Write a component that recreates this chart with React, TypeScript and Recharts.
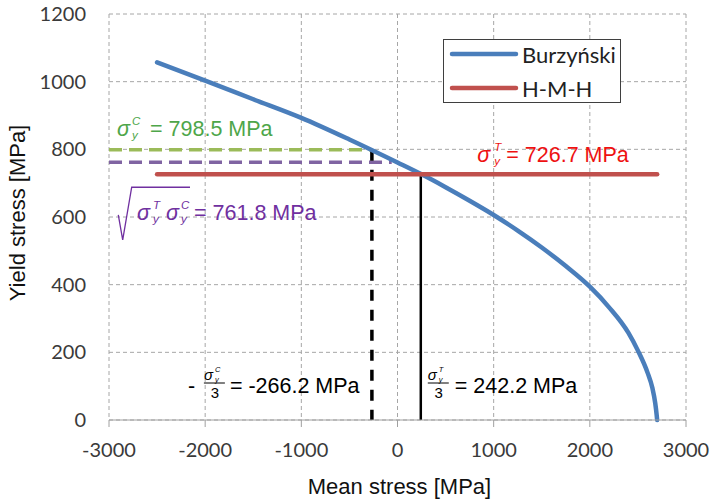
import React from "react";
import {
  ComposedChart,
  Line,
  XAxis,
  YAxis,
  CartesianGrid,
  ReferenceLine,
  ReferenceDot,
  Legend,
  Label,
} from "recharts";

const xTicks = [-3000, -2000, -1000, 0, 1000, 2000, 3000];
const yTicks = [0, 200, 400, 600, 800, 1000, 1200];

// Burzyński curve (mean stress, yield stress) in MPa
const burzynski = [
  { x: -2500, y: 1057 },
  { x: -2000, y: 1003 },
  { x: -1500, y: 948 },
  { x: -1000, y: 893 },
  { x: -500, y: 829 },
  { x: 0, y: 761 },
  { x: 250, y: 726 },
  { x: 500, y: 688 },
  { x: 750, y: 648 },
  { x: 1000, y: 606 },
  { x: 1250, y: 560 },
  { x: 1500, y: 510 },
  { x: 1750, y: 455 },
  { x: 2000, y: 394 },
  { x: 2200, y: 333 },
  { x: 2400, y: 258 },
  { x: 2500, y: 205 },
  { x: 2600, y: 140 },
  { x: 2650, y: 95 },
  { x: 2680, y: 50 },
  { x: 2695, y: 15 },
  { x: 2700, y: 0 },
];

const sigmaT = 726.7; // tensile yield stress
const sigmaC = 798.5; // compressive yield stress
const sigmaTC = 761.8; // sqrt(sigmaT * sigmaC)
const meanT = 242.2; // sigmaT / 3
const meanC = -266.2; // -sigmaC / 3
const hmhX = [-2500, 2700];
const geoEndX = -60;

const hmh = hmhX.map((x) => ({ x, y: sigmaT }));

const BLUE = "#4a7ebb";
const RED = "#c0504d";
const GREEN_DASH = "#9bbb59";
const PURPLE_DASH = "#8064a2";
const GREEN_TXT = "#4ea64a";
const PURPLE_TXT = "#7030a0";
const RED_TXT = "#ee1111";
const GRID = "#a6a6a6";
const ARIAL = "'Liberation Sans', Arial, sans-serif";
const CALIBRI = "Lato, 'Open Sans', sans-serif";
const FS = 21.5;

// σ with a superscript and a "y" subscript stacked after it, as tspans
const sigma = (
  key: string,
  x: number,
  y: number,
  sup: string,
  fs: number,
  sfs: number,
  supDx: number,
  rise: number,
  drop: number
) => [
  <tspan key={key + "s"} x={x} y={y} fontStyle="italic" fontSize={fs}>σ</tspan>,
  <tspan key={key + "p"} x={x + supDx} y={y - rise} fontStyle="italic" fontSize={sfs}>{sup}</tspan>,
  <tspan key={key + "b"} x={x + supDx} y={y + drop} fontStyle="italic" fontSize={sfs}>y</tspan>,
];

const GreenNote = ({ cx, cy }: any) => (
  <text fill={GREEN_TXT} fontFamily={ARIAL} fontSize={FS}>
    {sigma("a", cx + 8, cy - 13.5, "C", FS, 11.5, 15, 11, 3)}
    <tspan x={cx + 41} y={cy - 13.5}>= {sigmaC} MPa</tspan>
  </text>
);

const RedNote = ({ cx, cy }: any) => (
  <text fill={RED_TXT} fontFamily={ARIAL} fontSize={FS}>
    {sigma("a", cx - 1, cy - 12.4, "T", FS, 11.5, 17, 11, 3)}
    <tspan x={cx + 28} y={cy - 12.4}>= {sigmaT} MPa</tspan>
  </text>
);

const PurpleNote = ({ cx, cy }: any) => {
  const b = cy + 57.7;
  return (
    <g>
      <path
        d={`M${cx + 9.3},${cy + 52.7} L${cx + 13.7},${cy + 77.7} L${cx + 22.7},${cy + 25} L${cx + 81},${cy + 25}`}
        fill="none"
        stroke={PURPLE_TXT}
        strokeWidth={1.3}
      />
      <text fill={PURPLE_TXT} fontFamily={ARIAL} fontSize={FS}>
        {sigma("a", cx + 28, b, "T", FS, 11.5, 16, 11, 3)}
        {sigma("b", cx + 57, b, "C", FS, 11.5, 15, 11, 3)}
        <tspan x={cx + 85} y={b}>= {sigmaTC} MPa</tspan>
      </text>
    </g>
  );
};

// σ/3 fraction spans (numerator + denominator) starting at x
const fraction = (x: number, cy: number, sup: string) => [
  ...sigma("f", x, cy - 40, sup, 15, 7.5, 11, 8, 2),
  <tspan key="d" x={x + 11} y={cy - 22} fontSize={15} textAnchor="middle">3</tspan>,
];

const LeftNote = ({ cx, cy }: any) => (
  <g>
    <line x1={cx - 168} x2={cx - 147} y1={cy - 37} y2={cy - 37} stroke="#000" strokeWidth={1} />
    <text fill="#000" fontFamily={ARIAL} fontSize={FS}>
      <tspan x={cx - 184} y={cy - 27}>-</tspan>
      {fraction(cx - 168, cy, "C")}
      <tspan x={cx - 142} y={cy - 27}>= {meanC} MPa</tspan>
    </text>
  </g>
);

const RightNote = ({ cx, cy }: any) => (
  <g>
    <line x1={cx + 7} x2={cx + 28} y1={cy - 37} y2={cy - 37} stroke="#000" strokeWidth={1} />
    <text fill="#000" fontFamily={ARIAL} fontSize={FS}>
      {fraction(cx + 7, cy, "T")}
      <tspan x={cx + 34} y={cy - 27}>= {meanT} MPa</tspan>
    </text>
  </g>
);

const renderLegend = (props: any) => {
  const items = (props.payload || []).filter((p: any) => p.type !== "none");
  return (
    <svg width={178} height={64} style={{ display: "block" }}>
      <rect x={0.5} y={0.5} width={177} height={63} fill="#fff" stroke="#3f3f3f" />
      {items.map((p: any, i: number) => (
        <g key={p.value}>
          <line
            x1={9}
            x2={73}
            y1={15 + i * 34}
            y2={15 + i * 34}
            stroke={p.color}
            strokeWidth={4.5}
            strokeLinecap="round"
          />
          <text x={79} y={23.5 + i * 34} fontSize={22} fill="#222" fontFamily={CALIBRI}>
            {p.value}
          </text>
        </g>
      ))}
    </svg>
  );
};

const tickStyle = { fontSize: 20, fill: "#3a3a3a", fontFamily: CALIBRI };

export default function App() {
  return (
    <div style={{ position: "absolute", left: 0, top: 0, background: "#fff" }}>
      <ComposedChart width={712} height={500} margin={{ top: 14, right: 26, bottom: 0, left: 0 }}>
        <CartesianGrid stroke={GRID} strokeDasharray="4 3" />
        <XAxis
          type="number"
          dataKey="x"
          domain={[-3000, 3000]}
          ticks={xTicks}
          height={80}
          stroke="#a0a0a0"
          tickSize={7}
          tickMargin={16}
          tick={tickStyle}
        >
          <Label
            content={({ viewBox }: any) => (
              <text
                x={viewBox.x + viewBox.width / 2 + 2}
                y={viewBox.y + 74}
                textAnchor="middle"
                fontSize={22}
                fill="#111"
                fontFamily={ARIAL}
              >
                Mean stress [MPa]
              </text>
            )}
          />
        </XAxis>
        <YAxis
          type="number"
          domain={[0, 1200]}
          ticks={yTicks}
          width={109}
          axisLine={false}
          tickLine={false}
          tickSize={6}
          tickMargin={17}
          tick={tickStyle}
        >
          <Label
            content={({ viewBox }: any) => (
              <text
                transform={`translate(${viewBox.x + 24.5},${viewBox.y + viewBox.height / 2 - 4}) rotate(-90)`}
                textAnchor="middle"
                fontSize={22}
                fill="#111"
                fontFamily={ARIAL}
              >
                Yield stress [MPa]
              </text>
            )}
          />
        </YAxis>
        <Legend
          layout="vertical"
          align="center"
          verticalAlign="middle"
          wrapperStyle={{ left: 443, top: 39, width: 178, height: 64 }}
          content={renderLegend}
        />
        <ReferenceLine
          segment={[{ x: -3000, y: sigmaC }, { x: meanC, y: sigmaC }]}
          stroke={GREEN_DASH}
          strokeWidth={3.5}
          strokeDasharray="13 7"
        />
        <ReferenceLine
          segment={[{ x: -3000, y: sigmaTC }, { x: geoEndX, y: sigmaTC }]}
          stroke={PURPLE_DASH}
          strokeWidth={3.5}
          strokeDasharray="13 7"
        />
        <ReferenceLine
          segment={[{ x: meanC, y: sigmaC }, { x: meanC, y: 0 }]}
          stroke="#000"
          strokeWidth={3.5}
          strokeDasharray="11 9"
        />
        <ReferenceLine
          segment={[{ x: meanT, y: sigmaT }, { x: meanT, y: 0 }]}
          stroke="#000"
          strokeWidth={2.5}
        />
        <Line
          name="Burzyński"
          data={burzynski}
          dataKey="y"
          type="monotone"
          stroke={BLUE}
          strokeWidth={4.5}
          strokeLinecap="round"
          dot={false}
          activeDot={false}
          isAnimationActive={false}
        />
        <Line
          name="H-M-H"
          data={hmh}
          dataKey="y"
          type="linear"
          stroke={RED}
          strokeWidth={4.5}
          strokeLinecap="round"
          dot={false}
          activeDot={false}
          isAnimationActive={false}
        />
        <ReferenceDot x={-3000} y={sigmaC} shape={(p: any) => <GreenNote {...p} />} />
        <ReferenceDot x={-3000} y={sigmaTC} shape={(p: any) => <PurpleNote {...p} />} />
        <ReferenceDot x={840} y={sigmaT} shape={(p: any) => <RedNote {...p} />} />
        <ReferenceDot x={meanC} y={0} shape={(p: any) => <LeftNote {...p} />} />
        <ReferenceDot x={meanT} y={0} shape={(p: any) => <RightNote {...p} />} />
      </ComposedChart>
    </div>
  );
}
